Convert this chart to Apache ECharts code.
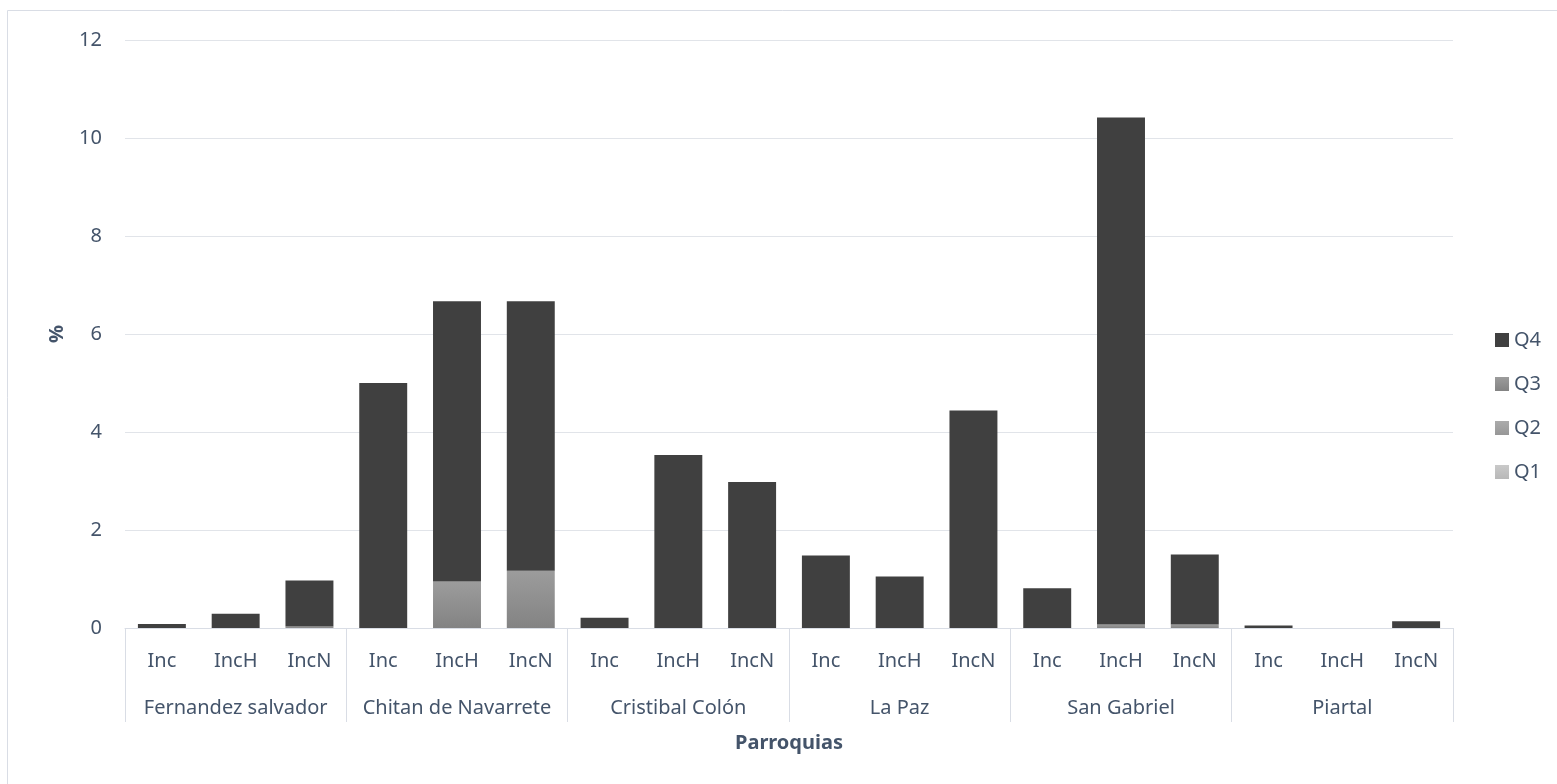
<!DOCTYPE html>
<html>
<head>
<meta charset="utf-8">
<script src="https://cdn.jsdelivr.net/npm/echarts@6/dist/echarts.min.js"></script>
<style>
  html, body { margin: 0; padding: 0; background: #fff; }
  #chart { width: 1557px; height: 784px; }
</style>
</head>
<body>
<div id="chart"></div>
<script>
// Parishes and the three indicators shown under each one
const parroquias = ['Fernandez salvador', 'Chitan de Navarrete', 'Cristibal Colón', 'La Paz', 'San Gabriel', 'Piartal'];
const indicadores = ['Inc', 'IncH', 'IncN'];

// Stacked shares (%) per quartile, 18 bars: parish x indicator
const q1 = [0, 0, 0,   0, 0, 0,      0, 0, 0,      0, 0, 0,      0, 0, 0,       0, 0, 0];
const q2 = [0, 0, 0,   0, 0, 0,      0, 0, 0,      0, 0, 0,      0, 0, 0,       0, 0, 0];
const q3 = [0, 0, 0.03, 0, 0.95, 1.17, 0, 0, 0,    0, 0, 0,      0, 0.07, 0.07, 0, 0, 0];
const q4 = [0.08, 0.29, 0.94, 5.0, 5.72, 5.5, 0.21, 3.53, 2.98, 1.48, 1.05, 4.44, 0.81, 10.35, 1.43, 0.05, 0, 0.14];

const yTicks = { min: 0, max: 12, interval: 2 };

const categorias = [];
parroquias.forEach(p => indicadores.forEach(i => categorias.push(i)));

const textColor = '#44546A';
const font = 'Noto Sans';

function grad(top, bottom) {
  return new echarts.graphic.LinearGradient(0, 0, 0, 1, [
    { offset: 0, color: top }, { offset: 1, color: bottom }
  ]);
}

const chart = echarts.init(document.getElementById('chart'), null, { renderer: 'canvas' });

const barBase = { type: 'bar', stack: 'total', barWidth: '65%', xAxisIndex: 0 };

chart.setOption({
  animation: false,
  textStyle: { fontFamily: font },
  graphic: [{
    type: 'rect',
    shape: { x: 7.5, y: 10.5, width: 1600, height: 900 },
    style: { fill: 'none', stroke: '#D9DDE5', lineWidth: 1 },
    silent: true
  }],
  grid: { left: 125, right: 104, top: 40, bottom: 156 },
  legend: {
    orient: 'vertical',
    left: 1490,
    top: 325,
    itemWidth: 14,
    itemHeight: 14,
    itemGap: 24,
    icon: 'rect',
    data: ['Q4', 'Q3', 'Q2', 'Q1'],
    textStyle: { color: textColor, fontSize: 20, fontFamily: font }
  },
  xAxis: [{
    type: 'category',
    data: categorias,
    axisLine: { show: true, lineStyle: { color: '#D9DDE5', width: 1 } },
    axisTick: { show: false },
    axisLabel: { color: textColor, fontSize: 20, margin: 23, interval: 0 },
    splitLine: { show: false }
  }, {
    type: 'category',
    data: parroquias,
    position: 'bottom',
    axisLine: { show: false },
    axisTick: { show: true, length: 94, lineStyle: { color: '#D9DDE5', width: 1 } },
    axisLabel: { color: textColor, fontSize: 20, margin: 70, interval: 0 },
    name: 'Parroquias',
    nameLocation: 'middle',
    nameGap: 105,
    nameTextStyle: { color: textColor, fontSize: 20, fontWeight: 'bold' }
  }],
  yAxis: {
    type: 'value',
    min: yTicks.min,
    max: yTicks.max,
    interval: yTicks.interval,
    axisLine: { show: false },
    axisTick: { show: false },
    axisLabel: { color: textColor, fontSize: 20, margin: 23 },
    splitLine: { lineStyle: { color: '#E1E4E9', width: 1 } },
    name: '%',
    nameLocation: 'middle',
    nameGap: 58,
    nameTextStyle: { color: textColor, fontSize: 20, fontWeight: 'bold' }
  },
  series: [
    Object.assign({}, barBase, { name: 'Q1', data: q1, itemStyle: { color: grad('#C9C9C9', '#B8B8B8') } }),
    Object.assign({}, barBase, { name: 'Q2', data: q2, itemStyle: { color: grad('#ABABAB', '#979797') } }),
    Object.assign({}, barBase, { name: 'Q3', data: q3, itemStyle: { color: grad('#9C9C9C', '#838383') } }),
    Object.assign({}, barBase, { name: 'Q4', data: q4, itemStyle: { color: '#404040' } })
  ]
});
</script>
</body>
</html>
